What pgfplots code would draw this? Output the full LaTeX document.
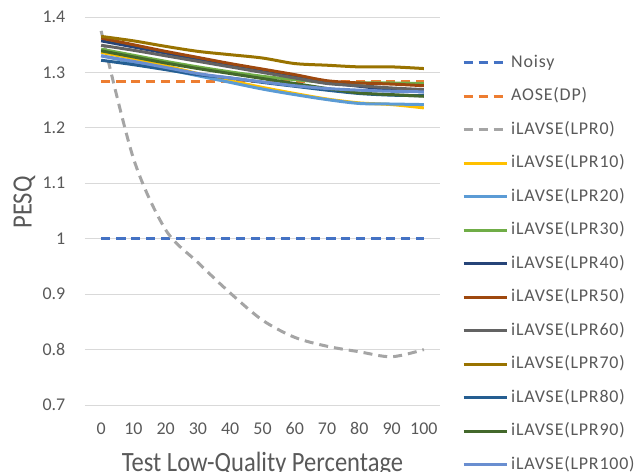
\documentclass[border=0pt]{standalone}
\usepackage{pgfplots}
\pgfplotsset{compat=1.18}
\usepackage{fontspec}
\setmainfont{Carlito}
\newfontfamily\labelfont{Carlito}[FakeStretch=0.88]
\newfontfamily\legendfont{Carlito}[LetterSpace=4.5]
\definecolor{cNoisy}{HTML}{4472C4}
\definecolor{cAOSE}{HTML}{ED7D31}
\definecolor{cL0}{HTML}{A5A5A5}
\definecolor{cL10}{HTML}{FFC000}
\definecolor{cL20}{HTML}{5B9BD5}
\definecolor{cL30}{HTML}{70AD47}
\definecolor{cL40}{HTML}{264478}
\definecolor{cL50}{HTML}{9E480E}
\definecolor{cL60}{HTML}{636363}
\definecolor{cL70}{HTML}{997300}
\definecolor{cL80}{HTML}{255E91}
\definecolor{cL90}{HTML}{43682B}
\definecolor{cL100}{HTML}{698ED0}
\definecolor{labelgray}{HTML}{595959}
\definecolor{gridgray}{HTML}{D9D9D9}
\begin{document}
\begin{tikzpicture}
\begin{axis}[
  at={(0,0)}, anchor=south west,
  scale only axis, width=355bp, height=388bp,
  xmin=-5, xmax=105, ymin=0.7, ymax=1.4,
  xtick={0,10,20,30,40,50,60,70,80,90,100},
  ytick={0.7,0.8,0.9,1,1.1,1.2,1.3,1.4},
  yticklabels={0.7,0.8,0.9,1,1.1,1.2,1.3,1.4},
  axis line style={draw=none}, tick style={draw=none},
  ymajorgrids, grid style={color=gridgray, line width=1bp},
  /pgf/number format/assume math mode=true,
  tick label style={font=\fontsize{18}{20}\selectfont, text=labelgray},
  yticklabel style={anchor=east, inner sep=0pt, xshift=-19.5bp},
  xticklabel style={anchor=base, inner sep=0pt, yshift=-29bp},
  xlabel={Test Low-Quality Percentage}, ylabel={PESQ},
  label style={font=\labelfont\fontsize{28}{30}\selectfont, text=labelgray},
  xlabel style={at={(axis description cs:0.5,0)}, anchor=base, inner sep=0pt, yshift=-66.7bp},
  ylabel style={at={(axis description cs:0,0.5)}, anchor=base, inner sep=0pt, yshift=53.3bp, xshift=8.5bp},
  legend image code/.code={\draw[#1] (0bp,0bp) -- (43bp,0bp);},
  legend cell align=left,
  legend style={at={(axis description cs:1.062,0.905)}, anchor=north west, draw=none, fill=none,
    inner sep=0pt, row sep=16.5bp, font=\legendfont\fontsize{18}{20}\selectfont, text=labelgray,
    nodes={inner sep=0pt, text height=13bp, text depth=4bp},
    /tikz/every odd column/.append style={column sep=3bp}},
  every axis plot/.append style={line width=3bp, smooth},
]
\addplot[cNoisy, dash pattern=on 9bp off 6bp] coordinates {(0,1) (10,1) (20,1) (30,1) (40,1) (50,1) (60,1) (70,1) (80,1) (90,1) (100,1)};
\addlegendentry{Noisy}
\addplot[cAOSE, dash pattern=on 9bp off 6bp] coordinates {(0,1.284) (10,1.284) (20,1.284) (30,1.284) (40,1.284) (50,1.284) (60,1.284) (70,1.284) (80,1.284) (90,1.284) (100,1.284)};
\addlegendentry{AOSE(DP)}
\addplot[cL0, dash pattern=on 9bp off 6bp] coordinates {(0,1.375) (10,1.145) (20,1.016) (30,0.957) (40,0.902) (50,0.853) (60,0.822) (70,0.806) (80,0.796) (90,0.787) (100,0.800)};
\addlegendentry{iLAVSE(LPR0)}
\addplot[cL10] coordinates {(0,1.336) (10,1.325) (20,1.312) (30,1.298) (40,1.285) (50,1.273) (60,1.262) (70,1.252) (80,1.245) (90,1.242) (100,1.236)};
\addlegendentry{iLAVSE(LPR10)}
\addplot[cL20] coordinates {(0,1.330) (10,1.318) (20,1.306) (30,1.294) (40,1.282) (50,1.270) (60,1.260) (70,1.251) (80,1.244) (90,1.243) (100,1.242)};
\addlegendentry{iLAVSE(LPR20)}
\addplot[cL30] coordinates {(0,1.342) (10,1.331) (20,1.320) (30,1.310) (40,1.301) (50,1.293) (60,1.287) (70,1.282) (80,1.281) (90,1.281) (100,1.280)};
\addlegendentry{iLAVSE(LPR30)}
\addplot[cL40] coordinates {(0,1.357) (10,1.346) (20,1.335) (30,1.324) (40,1.313) (50,1.303) (60,1.293) (70,1.282) (80,1.275) (90,1.269) (100,1.265)};
\addlegendentry{iLAVSE(LPR40)}
\addplot[cL50] coordinates {(0,1.362) (10,1.350) (20,1.338) (30,1.327) (40,1.316) (50,1.306) (60,1.296) (70,1.285) (80,1.281) (90,1.279) (100,1.276)};
\addlegendentry{iLAVSE(LPR50)}
\addplot[cL60] coordinates {(0,1.349) (10,1.340) (20,1.330) (30,1.320) (40,1.310) (50,1.300) (60,1.290) (70,1.280) (80,1.276) (90,1.272) (100,1.269)};
\addlegendentry{iLAVSE(LPR60)}
\addplot[cL70] coordinates {(0,1.365) (10,1.357) (20,1.347) (30,1.338) (40,1.332) (50,1.326) (60,1.316) (70,1.313) (80,1.310) (90,1.310) (100,1.307)};
\addlegendentry{iLAVSE(LPR70)}
\addplot[cL80] coordinates {(0,1.322) (10,1.314) (20,1.305) (30,1.296) (40,1.290) (50,1.282) (60,1.275) (70,1.268) (80,1.262) (90,1.259) (100,1.258)};
\addlegendentry{iLAVSE(LPR80)}
\addplot[cL90] coordinates {(0,1.339) (10,1.328) (20,1.317) (30,1.307) (40,1.298) (50,1.289) (60,1.280) (70,1.271) (80,1.263) (90,1.260) (100,1.257)};
\addlegendentry{iLAVSE(LPR90)}
\addplot[cL100] coordinates {(0,1.330) (10,1.320) (20,1.309) (30,1.298) (40,1.290) (50,1.283) (60,1.276) (70,1.271) (80,1.268) (90,1.266) (100,1.265)};
\addlegendentry{iLAVSE(LPR100)}
\end{axis}
\pgfresetboundingbox
\path[use as bounding box] (-85bp,-67bp) rectangle (556bp,405bp);
\end{tikzpicture}
\end{document}
